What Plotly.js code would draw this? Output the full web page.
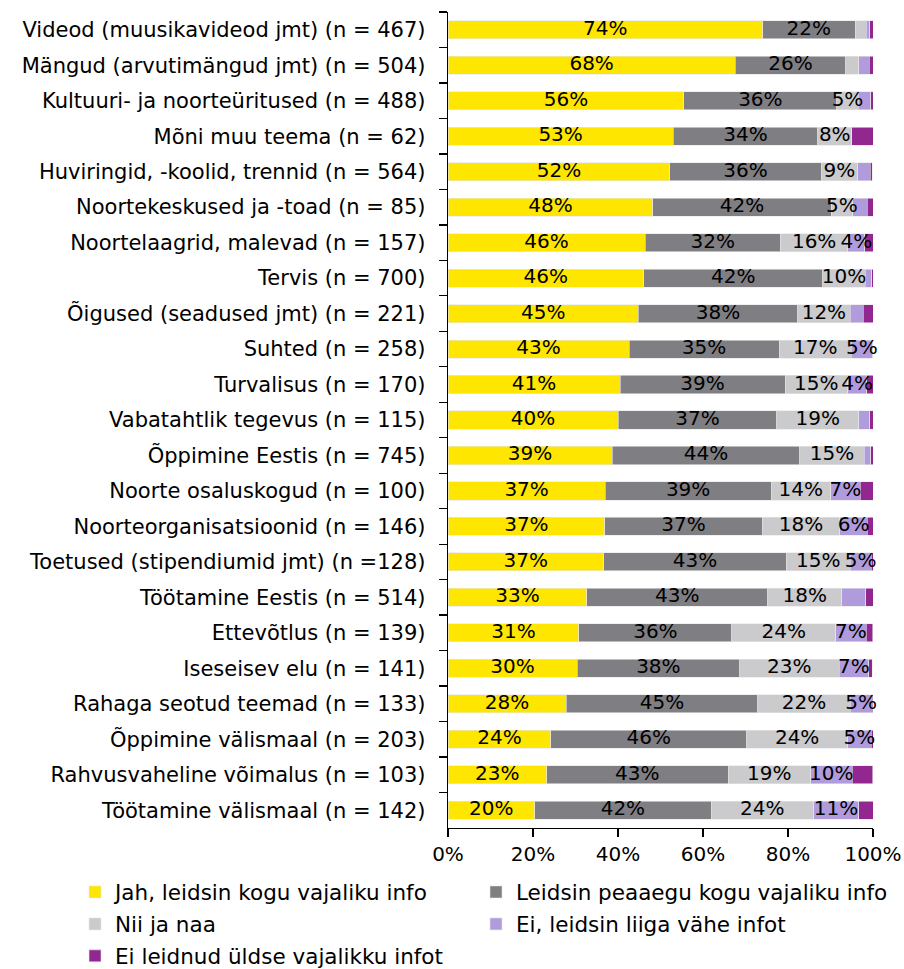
<!DOCTYPE html>
<html>
<head>
<meta charset="utf-8">
<script src="https://cdn.plot.ly/plotly-3.0.1.min.js"></script>
<style>html,body{margin:0;padding:0;background:#fff;}#chart{width:904px;height:969px;}</style>
</head>
<body>
<div id="chart"></div>
<script>
const categories = [
  "Videod (muusikavideod jmt) (n = 467)",
  "Mängud (arvutimängud jmt) (n = 504)",
  "Kultuuri- ja noorteüritused (n = 488)",
  "Mõni muu teema (n = 62)",
  "Huviringid, -koolid, trennid (n = 564)",
  "Noortekeskused ja -toad (n = 85)",
  "Noortelaagrid, malevad (n = 157)",
  "Tervis (n = 700)",
  "Õigused (seadused jmt) (n = 221)",
  "Suhted (n = 258)",
  "Turvalisus (n = 170)",
  "Vabatahtlik tegevus (n = 115)",
  "Õppimine Eestis (n = 745)",
  "Noorte osaluskogud (n = 100)",
  "Noorteorganisatsioonid (n = 146)",
  "Toetused (stipendiumid jmt) (n =128)",
  "Töötamine Eestis (n = 514)",
  "Ettevõtlus (n = 139)",
  "Iseseisev elu (n = 141)",
  "Rahaga seotud teemad (n = 133)",
  "Õppimine välismaal (n = 203)",
  "Rahvusvaheline võimalus (n = 103)",
  "Töötamine välismaal (n = 142)"
];
const seriesNames = [
  "Jah, leidsin kogu vajaliku info",
  "Leidsin peaaegu kogu vajaliku info",
  "Nii ja naa",
  "Ei, leidsin liiga vähe infot",
  "Ei leidnud üldse vajalikku infot"
];
const jah      = [74, 67.6, 55.5, 53, 52.2, 48.2, 46.4, 46, 44.8, 42.6, 40.5, 40, 38.6, 37, 36.9, 36.6, 32.7, 30.8, 30.4, 27.8, 24.2, 23.2, 20.4];
const peaaegu  = [21.8, 26, 36, 34, 35.6, 42, 31.8, 42.2, 37.5, 35.3, 38.8, 37.4, 44.2, 39, 37, 43, 42.5, 36, 38.2, 45.1, 46.1, 42.7, 41.5];
const niijanaa = [2.6, 3, 5, 8, 8.6, 5, 15.9, 10, 12.3, 17, 14.7, 19.2, 15.1, 14, 18.3, 15, 17.5, 24.4, 23.4, 21.7, 23.7, 19.4, 24.1];
const vahe     = [0.8, 2.5, 3, 0, 3, 3.5, 4, 1.5, 3.1, 5, 4.5, 2.6, 1.6, 7, 6.5, 5, 5.6, 7.2, 7, 5.2, 5.6, 9.8, 10.6];
const yldse    = [0.8, 0.9, 0.5, 5, 0.4, 1.3, 1.9, 0.3, 2.3, 0.1, 1.5, 0.8, 0.5, 3, 1.3, 0.4, 1.7, 1.5, 0.8, 0.2, 0.4, 4.8, 3.4];
const vaheLabels = ["", "", "", "", "", "", "4%", "", "", "5%", "4%", "", "", "7%", "6%", "5%", "", "7%", "7%", "5%", "5%", "10%", "11%"];
const xTickVals = [0, 20, 40, 60, 80, 100];
const xTickText = ["0%", "20%", "40%", "60%", "80%", "100%"];
const colors = ["#FFE600", "#7F7E82", "#CBCBCD", "#B09CDC", "#91278F"];

const FONT = "DejaVu Sans, Verdana, sans-serif";
const pct = v => Math.round(v) + "%";
const series = [jah, peaaegu, niijanaa, vahe, yldse];
const labelsFor = [
  jah.map(pct),
  peaaegu.map(pct),
  niijanaa.map(v => v >= 4 ? pct(v) : ""),
  vaheLabels,
  yldse.map(() => "")
];
// legend assignment: left column -> legend, right column -> legend2
const legendOf = ["legend", "legend2", "legend", "legend2", "legend"];

const data = series.map((vals, i) => ({
  type: "bar",
  orientation: "h",
  name: seriesNames[i],
  x: vals,
  y: categories,
  legend: legendOf[i],
  legendgroup: "g" + i,
  marker: {color: colors[i], line: {width: 0.6, color: "#e6e6e6"}},
  hoverinfo: "none"
}));

// value labels, drawn on top of all segments at the middle of each segment
const lx = [], ly = [], lt = [];
categories.forEach((c, r) => {
  let start = 0;
  series.forEach((vals, i) => {
    const t = labelsFor[i][r];
    if (t) { lx.push(start + vals[r] / 2); ly.push(c); lt.push(t); }
    start += vals[r];
  });
});
data.push({
  type: "scatter", mode: "text", x: lx, y: ly, text: lt,
  textposition: "middle center", cliponaxis: false, showlegend: false,
  textfont: {family: FONT, size: 20, color: "#000"}, hoverinfo: "none"
});

const legendBase = {
  orientation: "v", xanchor: "left", y: -0.0533, yanchor: "top",
  traceorder: "grouped", tracegroupgap: 1, bgcolor: "rgba(0,0,0,0)",
  font: {family: FONT, size: 21.5, color: "#000"}, itemwidth: 30
};

const layout = {
  width: 904, height: 969,
  margin: {l: 448, r: 31, t: 12, b: 141, autoexpand: false},
  barmode: "stack",
  bargap: 0.49,
  paper_bgcolor: "#fff", plot_bgcolor: "#fff",
  font: {family: FONT, size: 20, color: "#000"},
  showlegend: true,
  xaxis: {
    range: [0, 100], tickvals: xTickVals, ticktext: xTickText,
    showgrid: false, zeroline: false, showline: true, linecolor: "#000", linewidth: 1.3,
    ticks: "outside", ticklen: 8, tickcolor: "#000", tickwidth: 1.3,
    tickfont: {family: FONT, size: 20, color: "#000"}, fixedrange: true
  },
  yaxis: {
    type: "category", range: [categories.length - 0.5, -0.5],
    showgrid: false, zeroline: false, showline: true, linecolor: "#000", linewidth: 1.3,
    ticks: "outside", ticklen: 8, tickcolor: "#000", tickwidth: 1.3,
    tickson: "boundaries", ticklabelstandoff: 17,
    tickfont: {family: FONT, size: 21, color: "#000"}, fixedrange: true
  },
  legend: Object.assign({}, legendBase, {x: -0.8776}),
  legend2: Object.assign({}, legendBase, {x: 0.0659})
};
Plotly.newPlot("chart", data, layout, {displayModeBar: false, staticPlot: true});
</script>
</body>
</html>
